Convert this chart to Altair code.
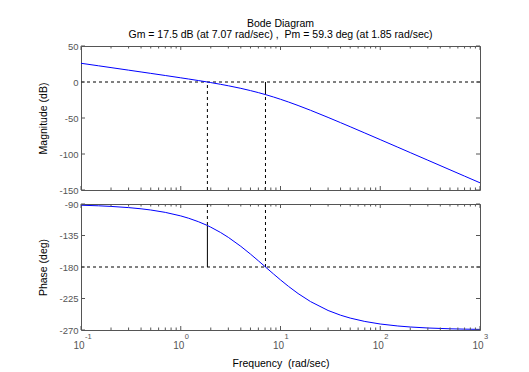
import altair as alt
import pandas as pd

# ---- data ----
freq = [0.1, 0.15, 0.2, 0.3, 0.4, 0.5, 0.7, 1, 1.2, 1.5, 1.85, 2, 2.5, 3, 4, 5, 6, 7, 7.07,
        8.5, 10, 12, 15, 20, 30, 40, 50, 70, 100, 150, 200, 300, 500, 700, 1000]
mag_db = [26.02, 22.49, 19.99, 16.46, 13.95, 11.99, 9.01, 5.81, 4.13, 2.03, 0.0, -0.82, -3.17,
          -5.23, -8.81, -11.94, -14.75, -17.33, -17.5, -20.83, -23.98, -27.74, -32.62, -39.29,
          -49.20, -56.45, -62.15, -70.82, -80.05, -90.59, -98.07, -108.63, -121.94, -130.71, -140.0]
phase_deg = [-91.72, -92.58, -93.44, -95.15, -96.87, -98.57, -101.97, -107.02, -110.34, -115.23,
             -120.7, -123.11, -130.60, -137.66, -150.46, -161.57, -171.16, -179.45, -180.0,
             -189.90, -198.43, -207.57, -217.88, -229.40, -242.10, -248.84, -252.98, -257.78,
             -261.43, -264.28, -265.71, -267.14, -268.28, -268.77, -269.14]

gm_db, gm_freq = 17.5, 7.07
pm_deg, pm_freq = 59.3, 1.85

x_major = [0.1, 1, 10, 100, 1000]
x_minor = [k * d for d in [0.1, 1, 10, 100] for k in range(2, 10)]
x_exp = ["-1", "0", "1", "2", "3"]
mag_ticks = [50, 0, -50, -100, -150]
phase_ticks = [-90, -135, -180, -225, -270]

W, H1, H2 = 399, 144, 126
AX = "#555555"
FONT = "Liberation Sans"
FS = 9.5
TFS = 10.5
NB = "\u00a0"

df = pd.DataFrame({"f": freq, "mag": mag_db, "ph": phase_deg})
xscale = alt.Scale(type="log", domain=[0.1, 1000], nice=False)
mscale = alt.Scale(domain=[-150, 50], nice=False, zero=False)
pscale = alt.Scale(domain=[-270, -90], nice=False, zero=False)

xaxis_top = None
xaxis_bot = alt.Axis(labels=False, ticks=False, domain=False, grid=False,
                     title="Frequency " + NB + "(rad/sec)", titlePadding=28)


def yaxis(vals, title):
    return alt.Axis(values=vals, title=title, ticks=False, tickSize=0, domain=False,
                    grid=False, labelPadding=3, titlePadding=10, labelColor=AX,
                    labelExpr="replace(datum.label, '−', '-')")


maxis = yaxis(mag_ticks, "Magnitude (dB)")
paxis = yaxis(phase_ticks, "Phase (deg)")


def X(xaxis):
    return alt.X("f:Q", scale=xscale, axis=xaxis)


def xticks(H, xaxis, major=4, minor=2.5):
    layers = []
    for vals, ln in [(x_major, major), (x_minor, minor)]:
        d = pd.DataFrame({"f": vals})
        layers.append(alt.Chart(d).mark_rule(color=AX, strokeWidth=1).encode(
            x=X(xaxis), y=alt.value(H), y2=alt.value(H - ln)))
        layers.append(alt.Chart(d).mark_rule(color=AX, strokeWidth=1).encode(
            x=X(xaxis), y=alt.value(0), y2=alt.value(ln)))
    return layers


def yticks(vals, field, yscale, yax, ln=4):
    d = pd.DataFrame({field: vals})
    return [
        alt.Chart(d).mark_rule(color=AX, strokeWidth=1).encode(
            y=alt.Y(f"{field}:Q", scale=yscale, axis=yax), x=alt.value(0), x2=alt.value(ln)),
        alt.Chart(d).mark_rule(color=AX, strokeWidth=1).encode(
            y=alt.Y(f"{field}:Q", scale=yscale, axis=yax), x=alt.value(W), x2=alt.value(W - ln)),
    ]


def vrule(f, a, b, yscale, yax, xax, dashed):
    kw = {"strokeDash": [3, 3]} if dashed else {}
    return alt.Chart(pd.DataFrame({"f": [f], "a": [a], "b": [b]})).mark_rule(
        color="black", strokeWidth=1, **kw).encode(
        x=X(xax), y=alt.Y("a:Q", scale=yscale, axis=yax), y2="b:Q")


# ---------- magnitude panel ----------
mag_line = alt.Chart(df).mark_line(color="#0000ff", strokeWidth=1, clip=True).encode(
    x=X(xaxis_top), y=alt.Y("mag:Q", scale=mscale, axis=maxis))
m_zero = alt.Chart(pd.DataFrame({"a": [0]})).mark_rule(color="black", strokeDash=[3, 3], strokeWidth=1).encode(
    y=alt.Y("a:Q", scale=mscale, axis=maxis))

mag_chart = alt.layer(
    m_zero,
    vrule(pm_freq, -150, 0, mscale, maxis, xaxis_top, True),
    vrule(gm_freq, -150, -gm_db, mscale, maxis, xaxis_top, True),
    vrule(gm_freq, -gm_db, 0, mscale, maxis, xaxis_top, False),
    mag_line,
    *xticks(H1, xaxis_top), *yticks(mag_ticks, "a", mscale, maxis)
).properties(
    width=W, height=H1,
    title=alt.TitleParams(
        text="Bode Diagram",
        subtitle="Gm = 17.5 dB (at 7.07 rad/sec) , " + NB + "Pm = 59.3 deg (at 1.85 rad/sec)",
        anchor="middle", frame="group", font=FONT, fontSize=TFS, fontWeight="normal",
        subtitleFont=FONT, subtitleFontSize=TFS, subtitleColor="black", color="black",
        subtitlePadding=0, offset=1)
)

# ---------- phase panel ----------
ph_line = alt.Chart(df).mark_line(color="#0000ff", strokeWidth=1, clip=True).encode(
    x=X(xaxis_bot), y=alt.Y("ph:Q", scale=pscale, axis=paxis))
p_180 = alt.Chart(pd.DataFrame({"a": [-180]})).mark_rule(color="black", strokeDash=[3, 3], strokeWidth=1).encode(
    y=alt.Y("a:Q", scale=pscale, axis=paxis))

lab_df = pd.DataFrame({"f": x_major, "e": x_exp, "t": ["10"] * 5})
lab10 = alt.Chart(lab_df).mark_text(font=FONT, fontSize=10, color=AX, align="center",
                                    baseline="middle", dx=-2).encode(
    x=X(xaxis_bot), y=alt.value(H2 + 16), text="t:N")
labexp = alt.Chart(lab_df).mark_text(font=FONT, fontSize=7.5, color=AX, align="left",
                                     baseline="middle", dx=4).encode(
    x=X(xaxis_bot), y=alt.value(H2 + 7), text="e:N")

phase_chart = alt.layer(
    p_180,
    vrule(pm_freq, -90, -180 + pm_deg, pscale, paxis, xaxis_bot, True),
    vrule(pm_freq, -180 + pm_deg, -180, pscale, paxis, xaxis_bot, False),
    vrule(gm_freq, -90, -180, pscale, paxis, xaxis_bot, True),
    ph_line, lab10, labexp,
    *xticks(H2, xaxis_bot), *yticks(phase_ticks, "a", pscale, paxis)
).properties(width=W, height=H2)

chart = alt.vconcat(mag_chart, phase_chart, spacing=3).configure_view(
    stroke=AX, strokeWidth=1
).configure_axis(
    labelFont=FONT, labelFontSize=FS, titleFont=FONT, titleFontSize=TFS, titleFontWeight="normal",
    titleColor="black"
).properties(
    padding={"left": 30, "top": 10, "right": 5, "bottom": 5}
)

chart.save("out.html", embed_options={"renderer": "svg", "actions": False})
